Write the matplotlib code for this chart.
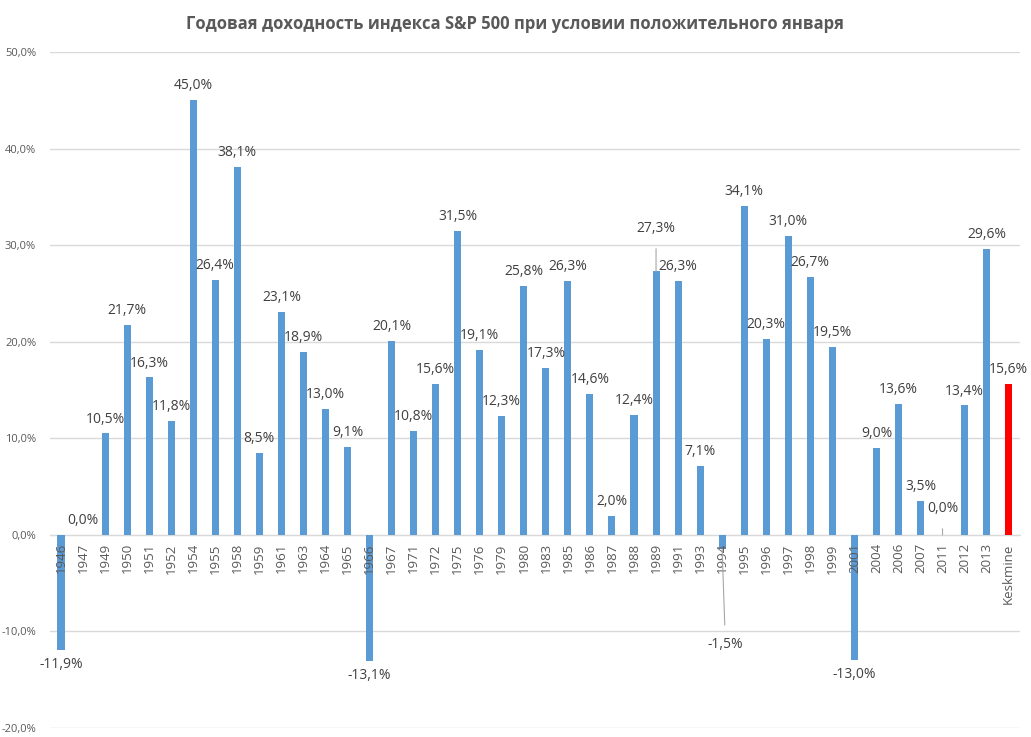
import matplotlib
matplotlib.use("Agg")
import matplotlib.pyplot as plt
from matplotlib.ticker import FuncFormatter

plt.rcParams['font.family'] = ['Open Sans', 'DejaVu Sans']

# --- DATOS ---
anos = ["1946", "1947", "1949", "1950", "1951", "1952", "1954", "1955", "1958", "1959",
        "1961", "1963", "1964", "1965", "1966", "1967", "1971", "1972", "1975", "1976",
        "1979", "1980", "1983", "1985", "1986", "1987", "1988", "1989", "1991", "1993",
        "1994", "1995", "1996", "1997", "1998", "1999", "2001", "2004", "2006", "2007",
        "2011", "2012", "2013", "Keskmine"]
rendimiento = [-11.9, 0.0, 10.5, 21.7, 16.3, 11.8, 45.0, 26.4, 38.1, 8.5,
               23.1, 18.9, 13.0, 9.1, -13.1, 20.1, 10.8, 15.6, 31.5, 19.1,
               12.3, 25.8, 17.3, 26.3, 14.6, 2.0, 12.4, 27.3, 26.3, 7.1,
               -1.5, 34.1, 20.3, 31.0, 26.7, 19.5, -13.0, 9.0, 13.6, 3.5,
               0.0, 13.4, 29.6, 15.6]
titulo = "Годовая доходность индекса S&P 500 при условии положительного января"

# etiquetas desplazadas con linea guia: año -> (x, y) del texto en datos
etiquetas_movidas = {"1989": (27, 31.7), "1994": (30.15, -11.4), "2011": (40, 2.7)}

AZUL = "#5B9BD5"
ROJO = "#FF0000"
GRIS_TXT = "#595959"
GRIS_LIN = "#D9D9D9"

fig = plt.figure(figsize=(10.31, 7.37), dpi=100)
ax = fig.add_axes([0.0485, 0.0122, 0.9405, 0.9172])

x = list(range(len(anos)))
colores = [AZUL] * (len(anos) - 1) + [ROJO]
ax.bar(x, rendimiento, width=0.32, color=colores, zorder=2)

ax.set_xlim(-0.5, len(anos) - 0.5)
ax.set_ylim(-20, 50)
ax.set_yticks(range(-20, 51, 10))
ax.yaxis.set_major_formatter(FuncFormatter(lambda v, p: f"{v:.1f}%".replace(".", ",")))
ax.grid(axis='y', color=GRIS_LIN, linewidth=1)
# rejilla debajo de las barras, etiquetas del eje X encima
ax.yaxis.set_zorder(0.5)
ax.xaxis.set_zorder(3)

for lado in ['top', 'right', 'left']:
    ax.spines[lado].set_visible(False)
ax.spines['bottom'].set_position(('data', 0))
ax.spines['bottom'].set_color(GRIS_LIN)
ax.spines['bottom'].set_zorder(1)

ax.set_xticks(x)
ax.set_xticklabels(anos, rotation=90, fontsize=9.5, color=GRIS_TXT)
ax.tick_params(axis='x', length=0, pad=6)
ax.tick_params(axis='y', length=0, labelsize=8, labelcolor=GRIS_TXT, pad=10)

# --- ETIQUETAS DE DATOS ---
for i, v in enumerate(rendimiento):
    txt = f"{v:.1f}%".replace(".", ",")
    if anos[i] in etiquetas_movidas:
        tx, ty = etiquetas_movidas[anos[i]]
        ax.annotate(txt, xy=(i, v), xytext=(tx, ty), ha='center', va='center',
                    fontsize=10, color="#404040", zorder=4,
                    arrowprops=dict(arrowstyle='-', color="#A6A6A6", lw=0.8,
                                    shrinkA=7, shrinkB=0))
        continue
    if v >= 0:
        ax.annotate(txt, xy=(i, v), xytext=(0, 5), textcoords='offset points',
                    ha='center', va='bottom', fontsize=10, color="#404040", zorder=4)
    else:
        ax.annotate(txt, xy=(i, v), xytext=(0, -5), textcoords='offset points',
                    ha='center', va='top', fontsize=10, color="#404040", zorder=4)

fig.text(0.5, 0.968, titulo, ha='center', va='center', fontsize=12,
         fontweight='bold', color=GRIS_TXT)

fig.savefig("out.png", dpi=100)
